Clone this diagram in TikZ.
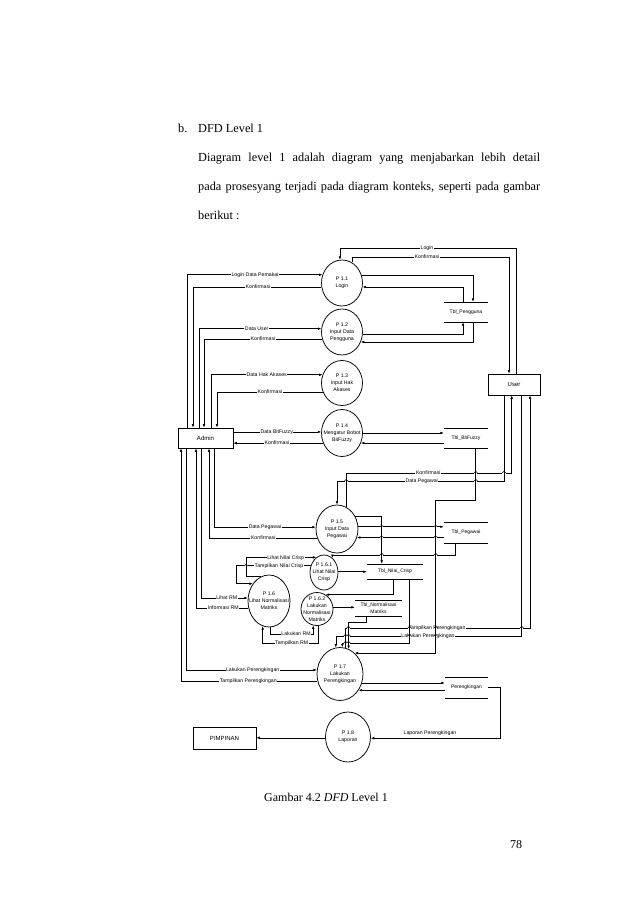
\documentclass[tikz,border=0pt]{standalone}
\usepackage{fontspec}
\setmainfont{Liberation Serif}
\newfontfamily\dsans{Liberation Sans}
\usetikzlibrary{shapes.geometric,arrows.meta}
\begin{document}
\begin{tikzpicture}[x=1pt,y=-1pt,
  ln/.style={line width=0.6pt},
  arr/.style={line width=0.6pt,-{Latex[length=3.4pt,width=2.6pt]}},
  proc/.style={ellipse,draw,line width=0.75pt,inner sep=0pt},
  ptxt/.style={align=center,inner sep=0pt,font=\dsans\fontsize{5.2}{7}\selectfont},
  ent/.style={draw,line width=0.75pt,inner sep=0pt,font=\dsans\fontsize{6}{7}\selectfont},
  store/.style={inner sep=0pt,align=center,font=\dsans\fontsize{5}{7}\selectfont},
  lbl/.style={fill=white,inner sep=0.6pt,font=\dsans\fontsize{5.2}{6}\selectfont},
  body/.style={anchor=base west,inner sep=0pt,font=\fontsize{12.3}{14}\selectfont}]
\fill[white] (0,0) rectangle (638,903);
\useasboundingbox (0,0) rectangle (638,903);

% ---------- page text ----------
\node[body] (tb) at (178,132.4) {b.};
\node[body] (th) at (198,132.4) {DFD Level 1};
\node[body] (t1) at (198,161.8) {\makebox[342pt][s]{Diagram level 1 adalah diagram yang menjabarkan lebih detail}};
\node[body] (t2) at (198,190.3) {\makebox[342pt][s]{pada prosesyang terjadi pada diagram konteks, seperti pada gambar}};
\node[body] (t3) at (198,219) {berikut :};
\node[inner sep=0pt,font=\fontsize{12}{14}\selectfont] (cap) at (326,797) {Gambar 4.2 \textit{DFD} Level 1};
\node[inner sep=0pt,font=\fontsize{12}{14}\selectfont] (pg) at (516,845) {78};

% ---------- processes ----------
\node[proc,minimum width=41pt,minimum height=46pt] (p11) at (342,283) {};
\node[ptxt] at (p11) {P 1.1\\Login};
\node[proc,minimum width=41pt,minimum height=46pt] (p12) at (342,332) {};
\node[ptxt] at (p12) {P 1.2\\Input Data\\Pengguna};
\node[proc,minimum width=41pt,minimum height=45pt] (p13) at (342,383) {};
\node[ptxt] at (p13) {P 1.3\\Input Hak\\Akases};
\node[proc,minimum width=41pt,minimum height=47pt] (p14) at (342,433) {};
\node[ptxt] at (p14) {P 1.4\\Mengatur Bobot\\BitFuzzy};
\node[proc,minimum width=42pt,minimum height=48pt] (p15) at (337,529) {};
\node[ptxt] at (p15) {P 1.5\\Input Data\\Pegawai};
\node[proc,minimum width=28pt,minimum height=35pt] (p161) at (324,572.5) {};
\node[ptxt] at (p161) {P 1.6.1\\Lihat Nilai\\Crisp};
\node[proc,minimum width=42pt,minimum height=52pt] (p16) at (269,601) {};
\node[ptxt] at (p16) {P 1.6\\Lihat Normalisasi\\Matriks};
\node[proc,minimum width=32pt,minimum height=33pt] (p162) at (317,609) {};
\node[ptxt] at (p162) {P 1.6.2\\Lakukan\\Normalisasi\\Matriks};
\node[proc,minimum width=46pt,minimum height=53pt] (p17) at (340,674) {};
\node[ptxt] at (p17) {P 1.7\\Lakukan\\Perengkingan};
\node[proc,minimum width=45pt,minimum height=50pt] (p18) at (348,737) {};
\node[ptxt] at (p18) {P 1.8\\Laporan};

% ---------- entities ----------
\node[ent,minimum width=55pt,minimum height=20pt] (adm) at (205.5,438) {Admin};
\node[ent,minimum width=52pt,minimum height=21pt] (usr) at (514,384.5) {User};
\node[ent,minimum width=63pt,minimum height=22pt] (pim) at (224.5,738) {PIMPINAN};

% ---------- data stores ----------
\node[store,minimum width=44pt,minimum height=20pt] (tpg) at (466,312) {Tbl\_Pengguna};
\node[store,minimum width=44pt,minimum height=20pt] (tbf) at (466,438) {Tbl\_BitFuzzy};
\node[store,minimum width=44pt,minimum height=21pt] (tpw) at (466,532.5) {Tbl\_Pegawai};
\node[store,minimum width=56pt,minimum height=15pt] (tnc) at (395,571.5) {Tbl\_Nilai\_Crisp};
\node[store,minimum width=47pt,minimum height=15.5pt] (tnm) at (378.5,608.3) {Tbl\_Normalisasi\\Matriks};
\node[store,minimum width=43pt,minimum height=21pt] (tpr) at (466.5,687.5) {Perengkingan};
\foreach \s in {tpg,tbf,tpw,tnc,tnm,tpr}
  \draw[ln] (\s.north west) -- (\s.north east) (\s.south west) -- (\s.south east);

% ---------- connectors: User / P1.1 / Tbl_Pengguna ----------
\draw[arr] (516,0 |- usr.north) |- (p11.95 |- 0,248) -- (p11.95);
\draw[arr] (p11.64) |- (509,257) -- (509,0 |- usr.north);
\draw[arr] (p11.20) -| (473,0 |- tpg.north);
\draw[arr] (463,0 |- tpg.north) |- (p11.-11);
\draw[arr] (p12.-6) -| (463,0 |- tpg.south);
\draw[arr] (473,0 |- tpg.south) |- (p12.-28);

% ---------- Admin top ----------
\draw[arr] (187,0 |- adm.north) |- (p11.157);
\draw[arr] (p11.191) -| (193,0 |- adm.north);
\draw[arr] (199,0 |- adm.north) |- (p12.171);
\draw[arr] (p12.200) -| (204,0 |- adm.north);
\draw[arr] (211,0 |- adm.north) |- (p13.157);
\draw[arr] (p13.205) -| (217,0 |- adm.north);
\draw[arr] (adm.east |- p14.177) -- (p14.177);
\draw[arr] (p14.208) -- (adm.east |- p14.208);
\draw[arr] (p14.0) -- (tbf.west |- p14.0);
\draw[arr] (tbf.west |- p14.-28) -- (p14.-28);

% ---------- P1.5 ----------
\draw[arr] (p15.67) |- (511.7,473) -- (511.7,0 |- usr.south);
\draw[arr] (504,0 |- usr.south) |- (p15.north |- 0,481) -- (p15.north);
\draw[arr] (214,0 |- adm.south) |- (p15.175);
\draw[arr] (p15.205) -| (209,0 |- adm.south);
\draw[arr] (p15.6) -- (tpw.west |- p15.6);
\draw[arr] (tpw.west |- p15.-23) -- (p15.-23);
\draw[arr] (p15.36) -| (381.7,0 |- tnc.north);

% ---------- P1.6 family ----------
\draw[arr] (455,0 |- tpw.south) |- (p161.60 |- 0,555) -- (p161.60);
\draw[arr] (p161.3) -- (tnc.west |- p161.3);
\draw[arr] (393.3,0 |- tnc.south) |- (p162.59);
\draw[arr] (p162.6) -- (tnm.west |- p162.6);
\draw[arr] (p16.109) -| (246,0 |- p161.117) -- (p161.117);
\draw[arr] (p161.153) -| (236.7,0 |- p16.133) -- (p16.133);
\draw[arr] (201,0 |- adm.south) |- (p16.172);
\draw[arr] (p16.199) -| (196,0 |- adm.south);
\draw[arr] (p16.-88) |- (p162.-103 |- 0,634) -- (p162.-103);
\draw[arr] (p162.-85) |- (p16.-104 |- 0,643.3) -- (p16.-104);

% ---------- P1.7 ----------
\draw[arr] (366.7,0 |- tnm.south) |- (p17.71 |- 0,622) -- (p17.71);
\draw[arr] (521.7,0 |- usr.south) |- (p17.99 |- 0,636) -- (p17.99);
\draw[arr] (p17.78) |- (530,628) -- (530,0 |- usr.south);
\draw[arr] (186,0 |- adm.south) |- (p17.170);
\draw[arr] (p17.197) -| (181,0 |- adm.south);
\draw[arr] (p17.-22) -- (tpr.west |- p17.-22);
\draw[arr] (tpr.west |- p17.-41) -- (p17.-41);

% ---------- P1.8 ----------
\draw[arr] (tpr.east) -| (500.7,0 |- p18.-3) -- (p18.-3);
\draw[arr] (p18.182) -- (pim.east |- p18.182);

% ---------- labels ----------
\node[lbl] at (427,248) {Login};
\node[lbl] at (427,257) {Konfirmasi};
\node[lbl] at (255,275) {Login Data Pemakai};
\node[lbl] at (258,287) {Konfirmasi};
\node[lbl] at (256.7,329) {Data User};
\node[lbl] at (263,339) {Konfirmasi};
\node[lbl] at (266.7,375) {Data Hak Akases};
\node[lbl] at (270,392) {Konfirmasi};
\node[lbl] at (276.7,432) {Data BitFuzzy};
\node[lbl] at (277,443) {Konfirmasi};
\node[lbl] at (428.3,473) {Konfirmasi};
\node[lbl] at (421.7,481) {Data Pegawai};
\node[lbl] at (265,527) {Data Pegawai};
\node[lbl] at (263.3,538) {Konfirmasi};
\node[lbl] at (285.7,557.7) {Lihat Nilai Crisp};
\node[lbl] at (279,566) {Tampilkan Nilai Crisp};
\node[lbl] at (226.7,598) {Lihat RM};
\node[lbl] at (223.3,608) {Informasi RM};
\node[lbl] at (296,634) {Lakukan RM};
\node[lbl] at (291.7,643.3) {Tampilkan RM};
\node[lbl] at (437,628) {Tampilkan Perengkingan};
\node[lbl] at (428,636) {Lakukan Perengkingan};
\node[lbl] at (252.7,670) {Lakukan Perengkingan};
\node[lbl] at (248.3,681) {Tampilkan Perengkingan};
\node[lbl,fill=none] at (430,733) {Laporan Perengkingan};

% ---------- lines drawn over labels ----------
\draw[arr] (475.7,0 |- tbf.south) |- (435.7,500) |- (p17.55);
\draw[arr] (409.5,0 |- tnc.south) |- (p17.85 |- 0,643) -- (p17.85);

% ---------- line jumps where horizontal flows cross vertical ones ----------
\foreach \hx/\hy in {475.7/473, 504/473, 475.7/481, 346.2/481,
    381.7/526.8, 435.7/526.8, 381.7/537.3, 435.7/537.3, 381.7/555, 435.7/555,
    246/565.9, 348.5/628, 409.5/628, 435.7/628, 521.7/628,
    345.5/636, 348.5/636, 409.5/636, 435.7/636, 345.5/643, 348.5/643} {
  \fill[white] (\hx-1.7,\hy-0.55) rectangle (\hx+1.7,\hy+0.55);
  \draw[ln] (\hx,\hy-1.1) -- (\hx,\hy+1.1);
  \draw[line width=0.5pt] (\hx-1.7,\hy) .. controls (\hx-1.7,\hy-2.3) and (\hx+1.7,\hy-2.3) .. (\hx+1.7,\hy);
}
\end{tikzpicture}
\end{document}
